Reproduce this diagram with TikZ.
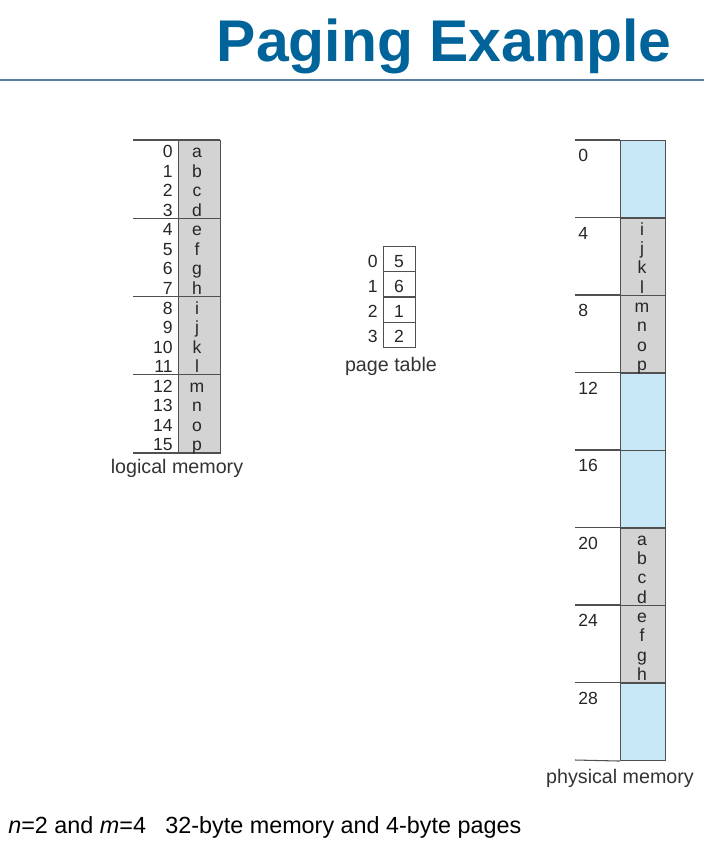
\documentclass[tikz,border=0pt]{standalone}
\usepackage{fontspec}
\setmainfont{Liberation Sans}

\definecolor{titleblue}{HTML}{00639A}
\definecolor{rulecol}{HTML}{5A7DA6}
\definecolor{cellgray}{HTML}{D3D3D3}
\definecolor{freeblue}{HTML}{C8E8F8}
\definecolor{linegray}{HTML}{505050}

\begin{document}
\begin{tikzpicture}[x=0.02cm, y=-0.02cm,
  cell/.style={draw=linegray, line width=0.6pt, inner sep=0pt, anchor=north west},
  idx/.style={font=\fontsize{10}{12}\selectfont, text=black!85, inner sep=0pt, anchor=base east},
  ltr/.style={font=\fontsize{10}{12}\selectfont, text=black!85, inner sep=0pt, anchor=base},
  caption/.style={font=\fontsize{11.2}{14}\selectfont, text=black!80, inner sep=0pt, anchor=base}]
\useasboundingbox (0,0) rectangle (704,855);

% title
\node[anchor=base east, text=titleblue, font=\fontsize{33.5}{40}\selectfont\bfseries, inner sep=0pt] (title) at (672,62) {Paging Example};
\draw[rulecol, line width=1.5pt] (0,80) -- (704,80);

% logical memory
\node[cell, fill=cellgray, minimum width=0.84cm, minimum height=6.26cm] (lmem) at (178,140) {};
\foreach \g in {0,...,4}
  \draw[linegray, line width=0.6pt] (133,140+78.25*\g) -- (220,140+78.25*\g);
\foreach \i/\c in {0/a,1/b,2/c,3/d,4/e,5/f,6/g,7/h,8/i,9/j,10/k,11/l,12/m,13/n,14/o,15/p}{
  \node[idx] (laddr\i) at (173,140+19.5625*\i+17.5) {\i};
  \node[ltr] (lval\i) at (197,140+19.5625*\i+17.5) {\c};
}
\node[caption] (lcap) at (177,473) {logical memory};

% page table
\foreach \i/\v in {0/5,1/6,2/1,3/2}{
  \node[cell, minimum width=0.64cm, minimum height=0.505cm] (pt\i) at (383,246+25.25*\i) {};
  \node[idx] (pidx\i) at (378,246+25.25*\i+21) {\i};
  \node[ltr] (pval\i) at (399,246+25.25*\i+21) {\v};
}
\node[caption] (ptcap) at (391,371) {page table};

% physical memory
\foreach \f/\col in {0/freeblue,1/cellgray,2/cellgray,3/freeblue,4/freeblue,5/cellgray,6/cellgray,7/freeblue}{
  \node[cell, fill=\col, minimum width=0.9cm, minimum height=1.55cm] (frame\f) at (620,140+77.5*\f) {};
  \draw[linegray, line width=0.6pt] (575,140+77.5*\f) -- (frame\f.north west);
  \pgfmathtruncatemacro{\addr}{4*\f}
  \node[idx, anchor=base west] (faddr\f) at (578,140+77.5*\f+21.5) {\addr};
}
\draw[linegray, line width=0.6pt] (575,760) -- (frame7.south west);
\foreach \f/\cs in {1/{i,j,k,l},2/{m,n,o,p},5/{a,b,c,d},6/{e,f,g,h}}
  \foreach \c [count=\k from 0] in \cs
    \node[ltr] (f\f v\k) at (642,140+77.5*\f+17.5+19.4*\k) {\c};
\node[caption] (pmcap) at (620,783) {physical memory};

% note
\node[anchor=base west, inner sep=0pt, font=\fontsize{13.3}{16}\selectfont] (note) at (8,833)
{\textit{n}=2 and \textit{m}=4\hspace{0.55em} 32-byte memory and 4-byte pages};
\end{tikzpicture}
\end{document}
